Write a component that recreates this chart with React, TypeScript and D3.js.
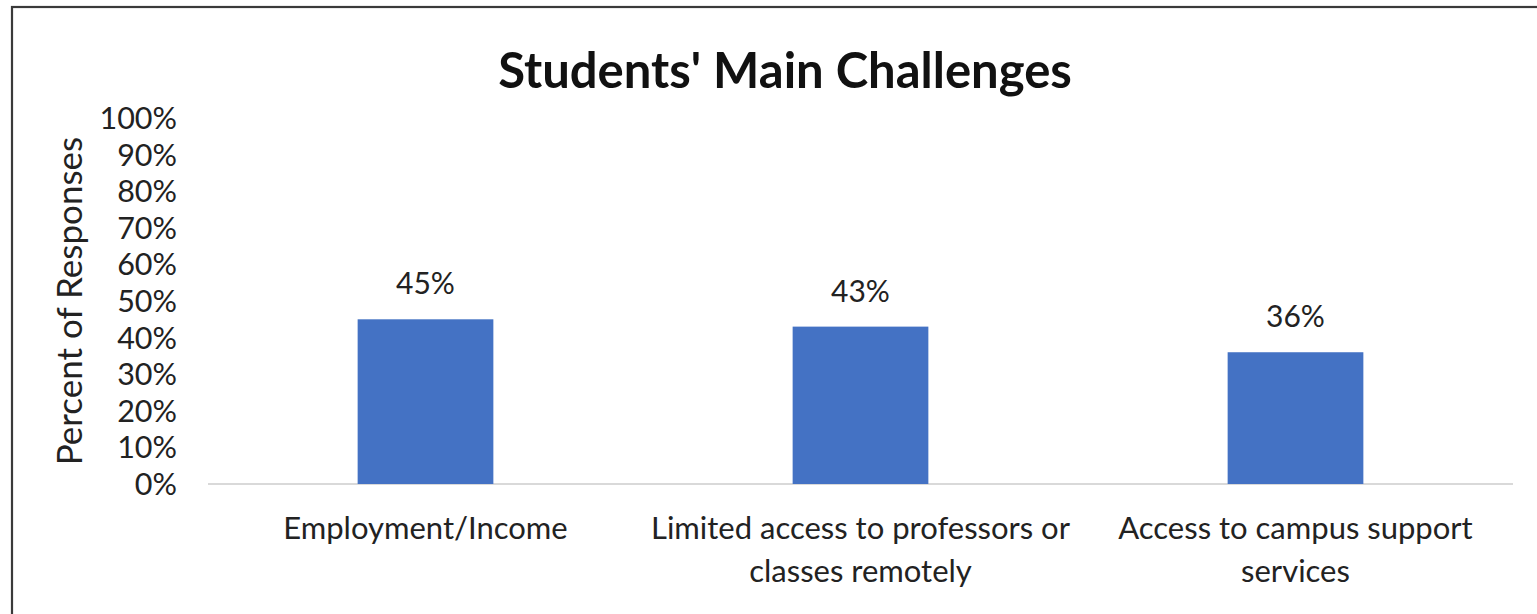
import React, { useEffect, useRef } from 'react'
import * as d3 from 'd3'

const categories = [
    ['Employment/Income'],
    ['Limited access to professors or', 'classes remotely'],
    ['Access to campus support', 'services'],
]
const values = [45, 43, 36]
const yTicks = [0, 10, 20, 30, 40, 50, 60, 70, 80, 90, 100]

const chartTitle = "Students' Main Challenges"
const yTitle = 'Percent of Responses'

function App() {
    const svgRef = useRef<SVGSVGElement>(null)

    useEffect(() => {
        document.body.style.margin = '0'

        const width = 1537
        const height = 614
        const font = 'Lato, "Open Sans", sans-serif'

        const svg = d3.select(svgRef.current)
        svg.selectAll('*').remove()
        svg.attr('width', width).attr('height', height).style('display', 'block')

        // outer chart frame, runs off the right and bottom of the picture
        svg.append('rect')
            .attr('x', 12).attr('y', 7)
            .attr('width', width + 20).attr('height', height + 20)
            .attr('fill', 'white')
            .attr('stroke', '#3a3a3a')
            .attr('stroke-width', 2.2)

        const xScale = d3.scaleBand<number>()
            .domain(d3.range(categories.length))
            .range([208, 1513])
            .paddingInner(0.688)
            .paddingOuter(0.344)

        const yScale = d3.scaleLinear()
            .domain([0, 100])
            .range([484, 118])

        svg.append('text')
            .attr('x', 785).attr('y', 88)
            .attr('text-anchor', 'middle')
            .attr('font-family', font)
            .attr('font-weight', 700)
            .attr('font-size', 49)
            .attr('fill', '#111')
            .text(chartTitle)

        // y tick labels (no axis line, no gridlines)
        svg.append('g')
            .selectAll('text')
            .data(yTicks)
            .join('text')
            .attr('x', 177)
            .attr('y', (d) => yScale(d))
            .attr('dy', '0.36em')
            .attr('text-anchor', 'end')
            .attr('font-family', font)
            .attr('font-size', 30.5)
            .attr('fill', '#222')
            .text((d) => d + '%')

        svg.append('text')
            .attr('transform', `translate(82, ${yScale(50)}) rotate(-90)`)
            .attr('text-anchor', 'middle')
            .attr('font-family', font)
            .attr('font-size', 35)
            .attr('fill', '#222')
            .text(yTitle)

        svg.append('line')
            .attr('x1', 208).attr('x2', 1513)
            .attr('y1', yScale(0)).attr('y2', yScale(0))
            .attr('stroke', '#d9d9d9')
            .attr('stroke-width', 2)

        svg.append('g')
            .selectAll('rect')
            .data(values)
            .join('rect')
            .attr('x', (d, i) => xScale(i)!)
            .attr('y', (d) => yScale(d))
            .attr('width', xScale.bandwidth())
            .attr('height', (d) => yScale(0) - yScale(d))
            .attr('fill', '#4472c4')

        svg.append('g')
            .selectAll('text')
            .data(values)
            .join('text')
            .attr('x', (d, i) => xScale(i)! + xScale.bandwidth() / 2)
            .attr('y', (d) => yScale(d) - 25)
            .attr('text-anchor', 'middle')
            .attr('font-family', font)
            .attr('font-size', 30)
            .attr('fill', '#222')
            .text((d) => d + '%')

        const xLabels = svg.append('g')
            .selectAll('text')
            .data(categories)
            .join('text')
            .attr('x', (d, i) => xScale(i)! + xScale.bandwidth() / 2)
            .attr('y', 539)
            .attr('text-anchor', 'middle')
            .attr('font-family', font)
            .attr('font-size', 31)
            .attr('fill', '#222')

        xLabels.selectAll('tspan')
            .data((d) => d)
            .join('tspan')
            .attr('x', function () {
                return (this as SVGTSpanElement).parentElement!.getAttribute('x')
            })
            .attr('dy', (d, i) => (i === 0 ? 0 : 43))
            .text((d) => d)
    }, [])

    return <svg ref={svgRef}></svg>
}

export default App
